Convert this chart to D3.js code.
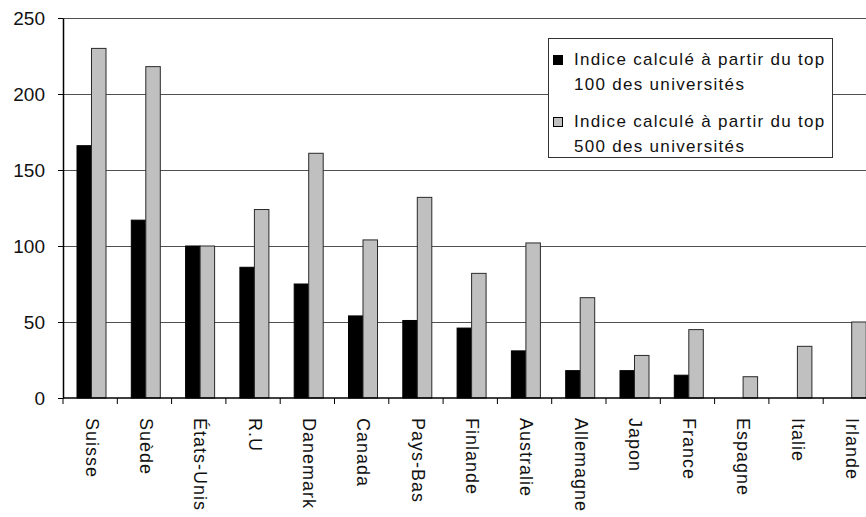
<!DOCTYPE html>
<html>
<head>
<meta charset="utf-8">
<script src="https://cdn.jsdelivr.net/npm/d3@7"></script>
<style>
  html, body { margin: 0; padding: 0; background: #fff; }
  svg { display: block; font-family: "Liberation Sans", Arial, sans-serif; }
</style>
</head>
<body>
<svg id="chart" width="866" height="517"></svg>
<script>
// Pays classés par indice (États-Unis = 100)
const countries = ["Suisse", "Suède", "États-Unis", "R.U", "Danemark", "Canada", "Pays-Bas",
  "Finlande", "Australie", "Allemagne", "Japon", "France", "Espagne", "Italie", "Irlande"];
// Indice calculé à partir du top 100 des universités
const top100 = [166, 117, 100, 86, 75, 54, 51, 46, 31, 18, 18, 15, 0, 0, 0];
// Indice calculé à partir du top 500 des universités
const top500 = [230, 218, 100, 124, 161, 104, 132, 82, 102, 66, 28, 45, 14, 34, 50];
const seriesNames = [
  ["Indice calculé à partir du top", "100 des universités"],
  ["Indice calculé à partir du top", "500 des universités"]
];
const yTicks = [0, 50, 100, 150, 200, 250];
const seriesColors = ["#000000", "#c0c0c0"];

const svg = d3.select("#chart");
const W = 866;
const plotLeft = 63, plotTop = 18, plotBottom = 398;
const step = 54.3;

const x = d3.scaleBand().domain(countries).range([plotLeft, plotLeft + step * countries.length]).padding(0);
const x1 = d3.scaleBand().domain([0, 1]).range([14, 43]).padding(0);
const y = d3.scaleLinear().domain([0, 250]).range([plotBottom, plotTop]);

// horizontal gridlines
svg.append("g").selectAll("line").data(yTicks.filter(d => d > 0)).join("line")
  .attr("x1", plotLeft).attr("x2", W)
  .attr("y1", d => y(d) + 0.5).attr("y2", d => y(d) + 0.5)
  .attr("stroke", "#505050").attr("stroke-width", 1.2);

// bars
const rows = countries.map((c, i) => ({ c, v: [top100[i], top500[i]] }));
const groups = svg.append("g").selectAll("g").data(rows).join("g")
  .attr("transform", d => `translate(${x(d.c)},0)`);
groups.selectAll("rect").data(d => d.v.map((v, k) => ({ v, k })).filter(e => e.v > 0)).join("rect")
  .attr("x", e => x1(e.k))
  .attr("width", x1.bandwidth())
  .attr("y", e => y(e.v))
  .attr("height", e => y(0) - y(e.v))
  .attr("fill", e => seriesColors[e.k])
  .attr("stroke", e => e.k === 0 ? "#000" : "#2a2a2a")
  .attr("stroke-width", 1);

// y axis
const yAxis = svg.append("g").attr("transform", `translate(${plotLeft},0)`)
  .call(d3.axisLeft(y).tickValues(yTicks).tickSize(5).tickPadding(13).tickSizeOuter(0));
yAxis.select(".domain").attr("stroke", "#000").attr("stroke-width", 1.5);
yAxis.selectAll(".tick line").attr("stroke", "#000");
yAxis.selectAll("text").attr("font-size", 19).attr("fill", "#111")
  .attr("font-family", "'Liberation Sans', Arial, sans-serif");

// x axis with rotated labels
const xAxis = svg.append("g").attr("transform", `translate(0,${plotBottom})`)
  .call(d3.axisBottom(x).tickSize(0).tickPadding(0).tickSizeOuter(0));
xAxis.select(".domain").attr("d", `M${plotLeft},0H${W}`).attr("stroke", "#000").attr("stroke-width", 1.5);
xAxis.selectAll("text")
  .attr("font-size", 18).attr("fill", "#111")
  .attr("font-family", "'Liberation Sans', Arial, sans-serif")
  .attr("text-anchor", "start")
  .attr("letter-spacing", "1px")
  .attr("transform", "rotate(90)")
  .attr("x", 20).attr("y", -2).attr("dy", "0.35em");
// category boundary ticks
xAxis.append("g").selectAll("line")
  .data(countries.map(c => x(c)).concat([x.range()[1]]).filter(v => v <= W))
  .join("line")
  .attr("x1", d => d).attr("x2", d => d).attr("y1", 0).attr("y2", 6)
  .attr("stroke", "#000").attr("stroke-width", 1);

// legend
const lg = svg.append("g");
lg.append("rect").attr("x", 548.5).attr("y", 38.5).attr("width", 284).attr("height", 119)
  .attr("fill", "#fff").attr("stroke", "#333").attr("stroke-width", 1);
const entryY = [65, 127];
seriesNames.forEach((lines, k) => {
  lg.append("rect").attr("x", 553.5).attr("y", entryY[k] - 9.5).attr("width", 9).attr("height", 9)
    .attr("fill", seriesColors[k]).attr("stroke", "#000").attr("stroke-width", 1);
  lines.forEach((t, j) => {
    lg.append("text").attr("x", 574).attr("y", entryY[k] + j * 25)
      .attr("font-size", 17).attr("letter-spacing", "1.3px").attr("fill", "#111").text(t);
  });
});
</script>
</body>
</html>
